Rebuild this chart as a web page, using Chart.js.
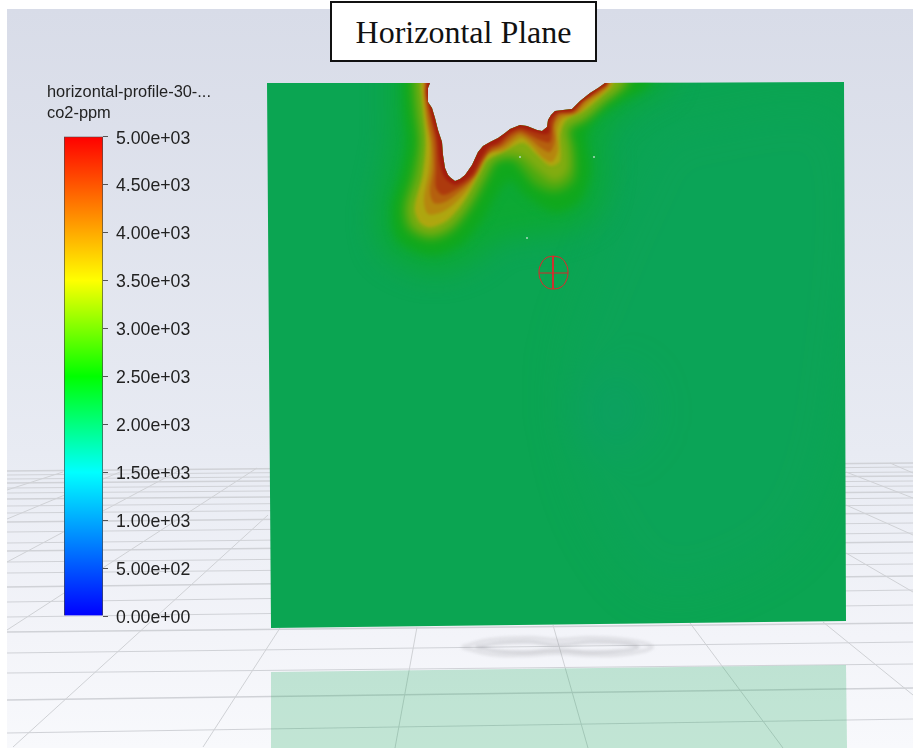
<!DOCTYPE html>
<html>
<head>
<meta charset="utf-8">
<title>Horizontal Plane</title>
<script src="https://cdn.jsdelivr.net/npm/chart.js@4/dist/chart.umd.min.js"></script>
<style>
    html, body { margin: 0; padding: 0; background: #fff; }
    #stage { position: relative; width: 913px; height: 748px; overflow: hidden; }
    #backdrop { position: absolute; left: 7px; top: 9px; right: 0; bottom: 0;
        background: linear-gradient(#d8dce8 0%, #e8ebf3 60%, #f3f4f9 85%, #f8f9fc 100%); }
    canvas { position: absolute; left: 0; top: 0; }
    #colorbar { top: 118px; }
    #shadow { filter: blur(1.6px); }
    #title { position: absolute; left: 330px; top: 1px; width: 263px; height: 57px; border: 2px solid #111;
        background: #fff; text-align: center; color: #111;
        font: 32px/58px "Liberation Serif", serif; }
    #legendTitle { position: absolute; left: 47px; top: 81px; color: #222;
        font: 16.4px/21px "Liberation Sans", sans-serif; }
</style>
</head>
<body>
<div id="stage">
    <div id="backdrop"></div>
    <canvas id="base" width="913" height="748"></canvas>
    <canvas id="shadow" width="913" height="748"></canvas>
    <canvas id="tone" width="913" height="748"></canvas>
    <canvas id="plumeHalo" width="913" height="748"></canvas>
    <canvas id="plumeOuter" width="913" height="748"></canvas>
    <canvas id="plumeInner" width="913" height="748"></canvas>
    <canvas id="marks" width="913" height="748"></canvas>
    <canvas id="colorbar" width="240" height="520"></canvas>
    <div id="title">Horizontal Plane</div>
    <div id="legendTitle">horizontal-profile-30-...<br>co2-ppm</div>
</div>
<script>
// colorbar
const tickLabels = ['0.00e+00', '5.00e+02', '1.00e+03', '1.50e+03', '2.00e+03', '2.50e+03', '3.00e+03', '3.50e+03', '4.00e+03', '4.50e+03', '5.00e+03'];
const colorbarValues = [0, 1500, 2500, 3500, 5000];
const colorbarColors = ['#0000ff', '#00ffff', '#00ff00', '#ffff00', '#ff0000'];

// ground grid, y where each line meets the left and right side of the view
const groundLeft = [471, 475, 479, 483, 488, 493, 499, 506, 513, 522, 532, 543, 551, 562, 573, 587, 602, 617, 632, 653, 673, 700, 733];
const groundRight = [463, 467, 472, 476, 481, 486, 492, 498, 505, 513, 523, 533, 542, 553, 564, 576, 590, 605, 623, 642, 664, 688, 719];
const groundRays = [
    [[7, 490], [63, 472]],
    [[7, 519], [120, 472]],
    [[7, 562], [180, 470]],
    [[7, 630], [257, 468]],
    [[13, 747], [268, 515]],
    [[203, 747], [280, 628]],
    [[395, 748], [417, 627]],
    [[588, 748], [553, 625]],
    [[783, 748], [690, 623]],
    [[913, 695], [823, 622]],
    [[913, 592], [846, 553]],
    [[913, 535], [846, 505]],
    [[913, 498], [846, 472]],
    [[913, 473], [890, 463]]
];

// plate outline and its mirror image on the ground
const plateCorners = [[844, 82], [846, 621], [271, 628], [267, 83]];
const reflection = [[271, 672], [846, 665], [847, 748], [271, 748]];
const shadowOuter = [[462, 647], [490, 640], [530, 638], [557, 640], [590, 638], [625, 640], [652, 647], [625, 654], [590, 655], [557, 653], [525, 655], [490, 654]];
const shadowInner = [[476, 647], [500, 643], [530, 642], [557, 645], [590, 642], [620, 643], [638, 647], [618, 651], [590, 652], [557, 650], [525, 652], [498, 651]];

// edge of the hole cut in the plate (no data above 5000 ppm)
const holeEdge = [[430, 83], [428, 88], [428, 102], [432, 108], [435, 118], [438, 130], [442, 142], [443, 155], [445, 168], [448, 175], [451, 178], [455, 181], [460, 179], [465, 175], [472, 165], [478, 152], [483, 146], [490, 142], [498, 138], [505, 133], [510, 129], [515, 127], [520, 125], [527, 126], [537, 130], [542, 131], [547, 127], [548, 120], [551, 115], [555, 111], [563, 110], [572, 109], [580, 101], [590, 93], [598, 88], [605, 83]];

// contour lines of the plume, outermost first
const contourColors = ['#0ca934', '#10a81c', '#4aaa10', '#84ac10', '#aea60f', '#b6860e', '#b5600e', '#ad3a0d', '#a31c0c'];
const contour0 = [[392, 83], [392, 110], [392, 142], [386, 175], [378, 215], [385, 250], [430, 272], [470, 262], [500, 240], [530, 235], [565, 230], [595, 212], [605, 170], [602, 135], [615, 118], [640, 100], [668, 83]];
const contour1 = [[403, 83], [404, 110], [407, 142], [401, 175], [392, 208], [398, 240], [430, 255], [460, 245], [482, 220], [498, 192], [510, 180], [525, 195], [555, 212], [580, 200], [590, 170], [586, 135], [597, 118], [620, 102], [650, 83]];
const contour2 = [[412, 83], [414, 110], [418, 142], [412, 175], [403, 208], [408, 230], [430, 240], [452, 232], [470, 210], [488, 178], [497, 162], [512, 160], [522, 170], [535, 185], [556, 192], [574, 180], [575, 150], [571, 130], [587, 120], [606, 102], [630, 83]];
const contour3 = [[417, 83], [419, 108], [422, 142], [419, 175], [409, 208], [414, 226], [430, 234], [450, 226], [467, 206], [484, 175], [492, 161], [507, 155], [521, 156], [537, 170], [555, 182], [569, 170], [568, 140], [566, 128], [584, 119], [601, 105], [623, 83]];
const contour4 = [[421, 83], [423, 108], [426, 142], [423, 175], [415, 208], [420, 222], [430, 227], [447, 220], [463, 202], [480, 172], [487, 160], [503, 152], [523, 143], [537, 155], [550, 166], [560, 161], [560, 135], [566, 120], [583, 111], [600, 97], [613, 83]];
const contour5 = [[423, 83], [424, 100], [427, 125], [430, 145], [429, 170], [424, 200], [428, 214], [442, 212], [455, 203], [467, 190], [477, 175], [484, 161], [490, 153], [504, 150], [515, 141], [522, 138], [532, 146], [543, 158], [552, 162], [558, 150], [557, 130], [562, 119], [578, 113], [589, 103], [602, 93], [611, 83]];
const contour6 = [[425, 83], [425, 98], [428, 122], [432, 142], [433, 168], [430, 192], [434, 203], [445, 202], [458, 193], [470, 182], [479, 168], [487, 155], [493, 151], [502, 147], [513, 138], [520, 134], [530, 139], [541, 148], [550, 152], [555, 140], [554, 125], [560, 116], [575, 113], [586, 101], [600, 92], [609, 83]];
const contour7 = [[426, 83], [426, 95], [431, 120], [435, 140], [436, 168], [436, 188], [443, 195], [455, 190], [466, 183], [475, 175], [483, 160], [491, 149], [500, 145], [511, 135], [520, 131], [528, 134], [540, 140], [550, 142], [553, 125], [558, 114], [573, 112], [584, 100], [597, 91], [608, 83]];
const contour8 = [[427, 83], [426, 92], [432, 118], [437, 138], [440, 164], [445, 178], [455, 185], [464, 181], [473, 173], [481, 158], [489, 147], [498, 143], [509, 133], [520, 128], [528, 130], [542, 134], [549, 133], [550, 121], [557, 113], [572, 111], [582, 102], [592, 95], [600, 89], [607, 83]];
const outerContours = [contour1, contour2, contour3];
const innerContours = [contour4, contour5, contour6, contour7, contour8];

// faint bluish tone on the right half of the plate
const toneWide = [[660, 130], [840, 120], [840, 400], [790, 540], [660, 590], [590, 500], [570, 360], [610, 240]];
const toneCore = [[585, 375], [635, 375], [650, 420], [615, 455], [580, 440], [570, 410]];

// measuring probe and stray cells
const probeRing = [[553, 256], [561, 258], [566, 264], [568, 272], [566, 281], [561, 287], [553, 289], [546, 287], [541, 281], [539, 272], [541, 264], [546, 258]];
const probeCrossH = [[539, 273], [568, 273]];
const probeCrossV = [[553, 256], [553, 289]];
const strayCells = [[520, 157], [594, 157], [527, 238]];

function pts(list) {
    return list.map(p => ({ x: p[0], y: p[1] }));
}

function lineSet(list, color, width, tension) {
    return { data: pts(list), showLine: true, pointRadius: 0, borderColor: color, borderWidth: width, tension: tension || 0, fill: false };
}

function shapeSet(list, color, tension) {
    return { data: pts(list), showLine: true, pointRadius: 0, borderWidth: 0, borderColor: 'transparent', backgroundColor: color, tension: tension || 0, fill: 'shape' };
}

// contour closed above the plate, the clip on the canvas trims it to the hole and top edge
function bandSet(contour, color) {
    const closed = [[contour[0][0], 40]].concat(contour, [[contour[contour.length - 1][0], 40]]);
    return shapeSet(closed, color, 0.3);
}

// layers are listed bottom first, chart.js paints dataset 0 last
function drawField(id, layers) {
    new Chart(document.getElementById(id), {
        type: 'scatter',
        data: { datasets: layers.slice().reverse() },
        options: {
            responsive: false,
            animation: false,
            layout: { padding: 0, autoPadding: false },
            plugins: { legend: { display: false }, tooltip: { enabled: false } },
            scales: {
                x: { type: 'linear', display: false, min: 0, max: 913 },
                y: { type: 'linear', display: false, min: 0, max: 748, reverse: true }
            }
        }
    });
}

function softClip(id, blur) {
    const outline = [[267, 83]].concat(holeEdge, plateCorners.slice(0, 3));
    const el = document.getElementById(id);
    el.style.filter = 'blur(' + blur + 'px)';
    el.style.clipPath = 'polygon(' + outline.map(p => p[0] + 'px ' + p[1] + 'px').join(',') + ')';
}

const baseLayers = [];
groundLeft.forEach((y, i) => {
    baseLayers.push(lineSet([[7, y], [913, groundRight[i]]], '#d0d2d7', i % 3 === 0 ? 1.6 : 1.2));
});
groundRays.forEach(r => baseLayers.push(lineSet(r, '#cfd1d5', 1)));
baseLayers.push(shapeSet(reflection, 'rgba(11,165,82,0.23)'));
// plate stops at contour 5, the plume layers paint the rest up to the hole
baseLayers.push(shapeSet(contour5.concat(plateCorners), '#0ba552'));
drawField('base', baseLayers);

drawField('shadow', [
    lineSet(shadowOuter.concat([shadowOuter[0]]), 'rgba(150,150,155,0.20)', 4, 0.4),
    lineSet(shadowInner.concat([shadowInner[0]]), 'rgba(140,140,145,0.30)', 3, 0.4)
]);

drawField('tone', [
    shapeSet(toneWide, 'rgba(14,162,100,0.28)', 0.3),
    shapeSet(toneCore, 'rgba(16,150,125,0.26)', 0.3)
]);
softClip('tone', 22);

drawField('plumeHalo', [bandSet(contour0, contourColors[0])]);
softClip('plumeHalo', 14);

drawField('plumeOuter', outerContours.map((c, i) => bandSet(c, contourColors[i + 1])));
softClip('plumeOuter', 5);

drawField('plumeInner', innerContours.map((c, i) => bandSet(c, contourColors[i + 4])));
softClip('plumeInner', 1.8);

drawField('marks', [
    lineSet(probeRing.concat([probeRing[0]]), '#e8222a', 1, 0.4),
    lineSet(probeCrossH, '#d8262a', 1),
    lineSet(probeCrossV, '#e8222a', 1),
    { data: pts(strayCells), showLine: false, pointRadius: 1, borderWidth: 0, backgroundColor: 'rgba(190,225,205,0.9)' }
]);

new Chart(document.getElementById('colorbar'), {
    type: 'bar',
    data: {
        labels: ['co2-ppm'],
        datasets: [{
            data: [[0, 5000]],
            barPercentage: 1,
            categoryPercentage: 1,
            borderWidth: 1,
            borderColor: '#4a4a4a',
            backgroundColor: ctx => {
                const area = ctx.chart.chartArea;
                if (!area) return '#00ff00';
                const grad = ctx.chart.ctx.createLinearGradient(0, area.bottom, 0, area.top);
                colorbarValues.forEach((v, i) => grad.addColorStop(v / 5000, colorbarColors[i]));
                return grad;
            }
        }]
    },
    options: {
        responsive: false,
        animation: false,
        layout: { padding: { left: 64, top: 17, bottom: 22, right: 0 }, autoPadding: false },
        plugins: { legend: { display: false }, tooltip: { enabled: false } },
        scales: {
            x: { display: false },
            y: {
                position: 'right',
                min: 0,
                max: 5000,
                afterFit: s => { s.width = 137; },
                border: { display: false },
                grid: { drawOnChartArea: false, tickLength: 5, tickColor: '#555', tickWidth: 1 },
                ticks: {
                    stepSize: 500,
                    autoSkip: false,
                    padding: 8,
                    labelOffset: 2,
                    color: '#222',
                    font: { family: '"Liberation Sans", sans-serif', size: 17.7 },
                    callback: (v, i) => tickLabels[i]
                }
            }
        }
    }
});
</script>
</body>
</html>
